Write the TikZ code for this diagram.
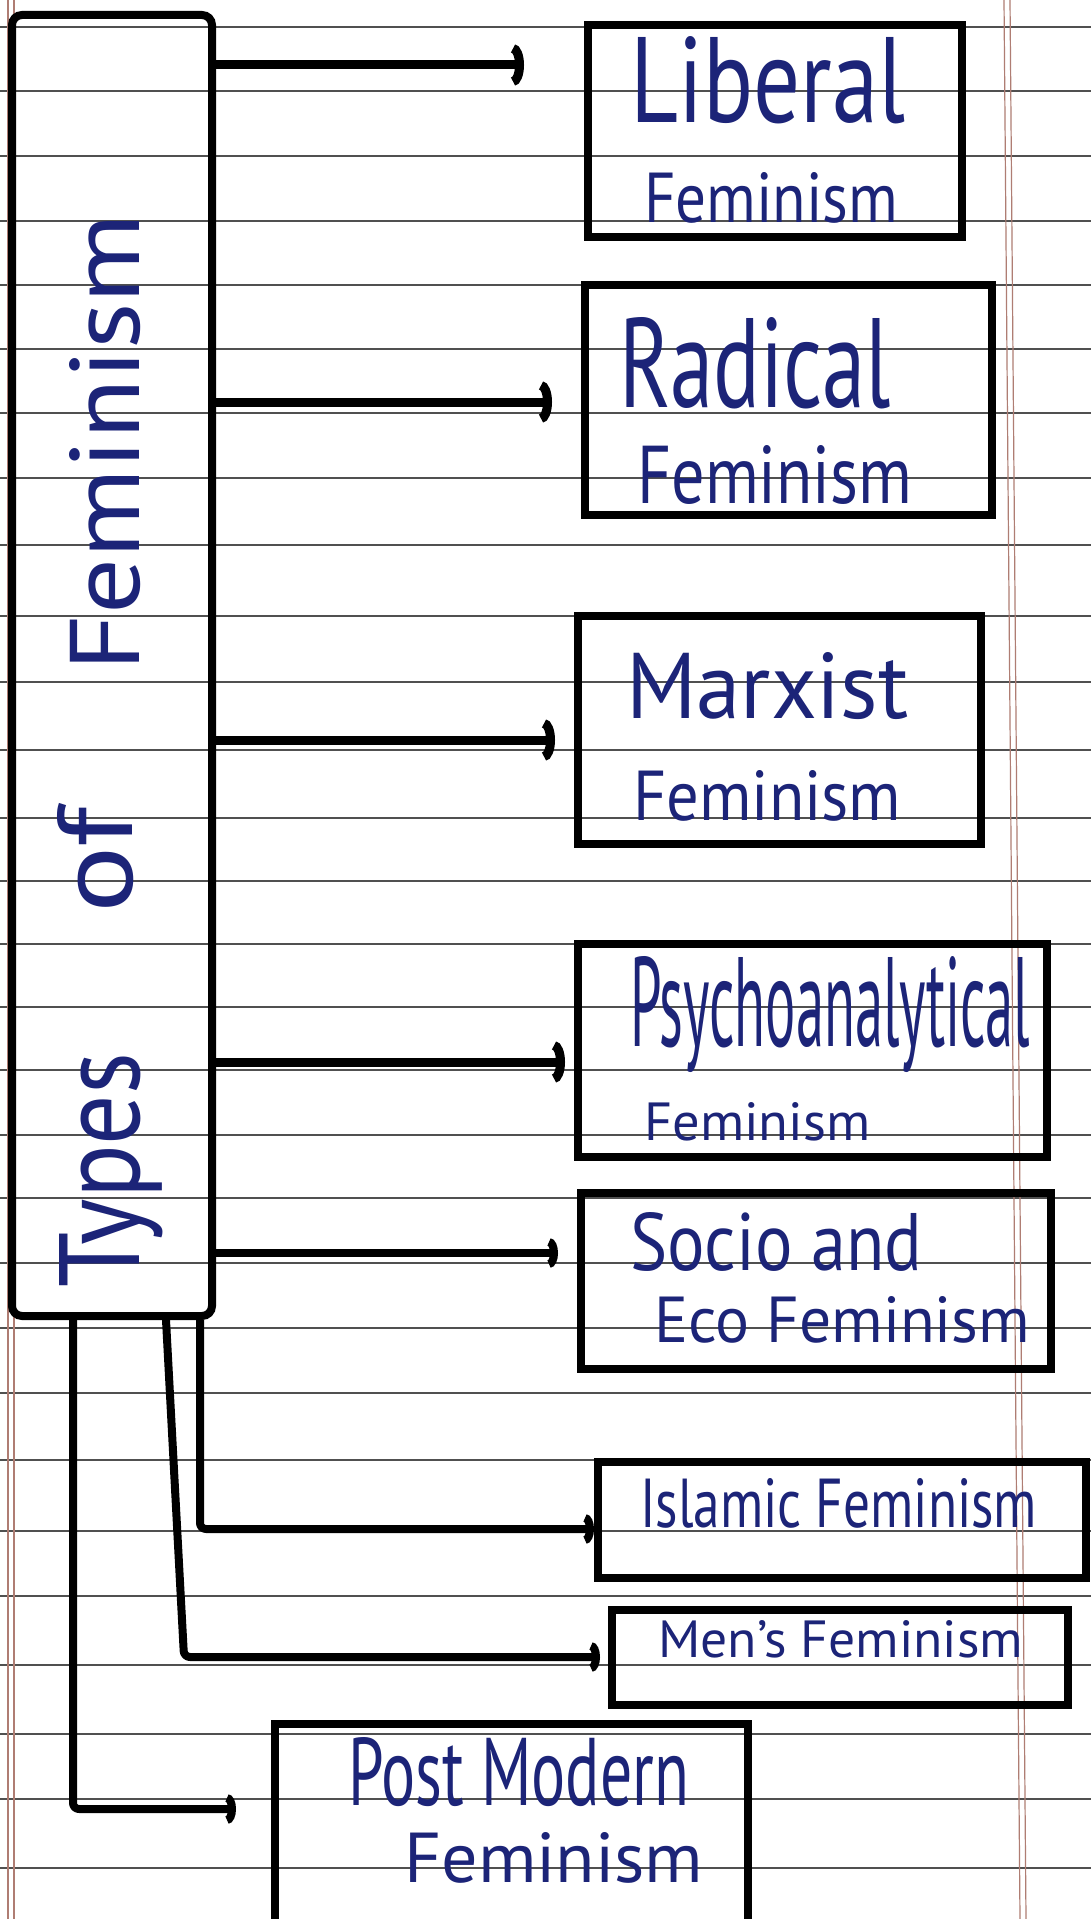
\documentclass[tikz,border=0pt]{standalone}
\usepackage{fontspec}
\setmainfont{PT Sans}
\usepackage{graphicx}
\usetikzlibrary{arrows.meta}
\definecolor{ink}{RGB}{28,36,120}
\definecolor{rulecol}{RGB}{80,80,80}
\definecolor{margincol}{RGB}{175,125,115}
\newcommand\hw[3]{\resizebox{#1pt}{#2pt}{#3}}
\begin{document}
\begin{tikzpicture}[x=1pt,y=-1pt,
  box/.style={draw=black, line width=8pt, rectangle, inner sep=0pt},
  conn/.style={line width=9pt, black, line join=round, rounded corners=6pt, -{Arc Barb[length=11pt,width=42pt]}},
  connsmall/.style={line width=8pt, black, line join=round, rounded corners=6pt, -{Arc Barb[length=9pt,width=30pt]}},
  lab/.style={inner sep=0pt, text=ink, anchor=base west},
  ruled/.style={rulecol, line width=1.3pt},
  marg/.style={margincol, line width=1.2pt}
]
\useasboundingbox (0,0) rectangle (1091,1919);
\clip (0,0) rectangle (1091,1919);
\fill[white] (0,0) rectangle (1091,1919);
% ruled paper
\foreach \yy in {27,91,156,221,285,349,413,478,545,616,682,750,818,881,944,1007,1070,1135,1198,1263,1328,1393,1460,1531,1596,1665,1734,1799,1868}
  \draw[ruled] (0,\yy) -- (1091,\yy);
\draw[marg] (1004,0) -- (1020,1919);
\draw[marg] (1010,0) -- (1026,1919);
\draw[marg] (8,0) -- (8,1919);
\draw[marg] (14,0) -- (14,1919);

% main box
\node[box, line width=8pt, rounded corners=10pt, minimum width=200pt, minimum height=1301pt] (main) at (112,665.5) {};

% boxes
\node[box, minimum width=374pt, minimum height=212pt] (lib) at (775,131) {};
\node[box, minimum width=407pt, minimum height=230pt] (rad) at (788.5,400) {};
\node[box, minimum width=403pt, minimum height=228pt] (mar) at (779.5,730) {};
\node[box, minimum width=469pt, minimum height=213pt] (psy) at (812.5,1050.5) {};
\node[box, minimum width=470pt, minimum height=176pt] (eco) at (816,1281) {};
\node[box, minimum width=488pt, minimum height=116pt] (isl) at (842,1520) {};
\node[box, minimum width=456pt, minimum height=95pt] (men) at (840,1657.5) {};
\node[box, minimum width=473pt, minimum height=206pt] (pom) at (511.5,1827) {};

% arrow end points (tips stop short of the boxes)
\coordinate (e1) at (524,65);
\coordinate (e2) at (552,402);
\coordinate (e3) at (555,740);
\coordinate (e4) at (565,1062);
\coordinate (e5) at (558,1253);
\coordinate (k6) at (200,1529);
\coordinate (e6) at (594,1529);
\coordinate (k7t) at (166,0);
\coordinate (k7) at (184,1657);
\coordinate (e7) at (600,1657);
\coordinate (k8) at (73,1809);
\coordinate (e8) at (236,1809);

\draw[conn] (main.east |- e1) -- (e1);
\draw[conn] (main.east |- e2) -- (e2);
\draw[conn] (main.east |- e3) -- (e3);
\draw[conn] (main.east |- e4) -- (e4);
\draw[connsmall] (main.east |- e5) -- (e5);
\draw[connsmall] (k6 |- main.south) -- (k6) -- (e6);
\draw[connsmall] (k7t |- main.south) -- (k7) -- (e7);
\draw[connsmall] (k8 |- main.south) -- (k8) -- (e8);

% vertical title
\node[lab, rotate=90] (tt1) at (139,1288) {\hw{235}{80}{Types}};
\node[lab, rotate=90] (tt2) at (132,914) {\hw{106}{75}{of}};
\node[lab, rotate=90] (tt3) at (139,672) {\hw{458}{70}{Feminism}};

% labels
\node[lab] (t1a) at (630,122) {\hw{275}{86}{Liberal}};
\node[lab] (t1b) at (644,222) {\hw{254}{50}{Feminism}};
\node[lab] (t2a) at (619,407) {\hw{272}{90}{Radical}};
\node[lab] (t2b) at (637,503) {\hw{275}{58}{Feminism}};
\node[lab] (t3a) at (626,718) {\hw{282}{66}{Marxist}};
\node[lab] (t3b) at (633,820) {\hw{268}{50}{Feminism}};
\node[lab] (t4a) at (630,1046) {\hw{400}{90}{Psychoanalytical}};
\node[lab] (t4b) at (644,1140) {\hw{226}{38}{Feminism}};
\node[lab] (t5a) at (630,1270) {\hw{292}{58}{Socio and}};
\node[lab] (t5b) at (654,1342) {\hw{376}{46}{Eco Feminism}};
\node[lab] (t6) at (640,1527) {\hw{397}{49}{Islamic Feminism}};
\node[lab] (t7) at (658,1657) {\hw{365}{37}{Men's Feminism}};
\node[lab] (t8a) at (348,1805) {\hw{341}{68}{Post Modern}};
\node[lab] (t8b) at (404,1882) {\hw{299}{50}{Feminism}};
\end{tikzpicture}
\end{document}
